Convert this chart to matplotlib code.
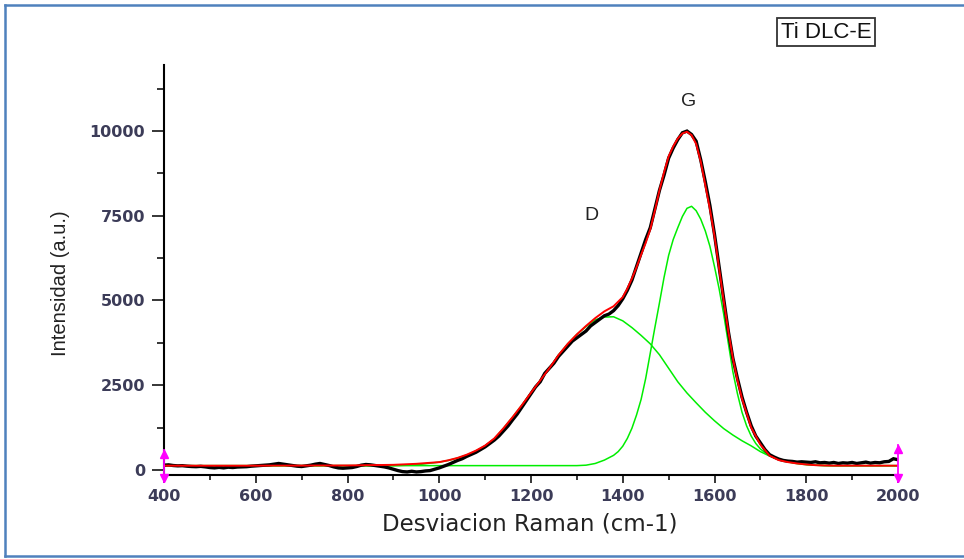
import matplotlib
matplotlib.use("Agg")
import matplotlib.pyplot as plt
from matplotlib.lines import Line2D
from matplotlib.ticker import MultipleLocator

# ---------------- data ----------------
raman_shift = [400, 410, 420, 430, 440, 450, 460, 470, 480, 490,
               500, 510, 520, 530, 540, 550, 560, 570, 580, 590,
               600, 610, 620, 630, 640, 650, 660, 670, 680, 690,
               700, 710, 720, 730, 740, 750, 760, 770, 780, 790,
               800, 810, 820, 830, 840, 850, 860, 870, 880, 890,
               900, 910, 920, 930, 940, 950, 960, 970, 980, 990,
               1000, 1010, 1020, 1030, 1040, 1050, 1060, 1070, 1080, 1090,
               1100, 1110, 1120, 1130, 1140, 1150, 1160, 1170, 1180, 1190,
               1200, 1210, 1220, 1230, 1240, 1250, 1260, 1270, 1280, 1290,
               1300, 1310, 1320, 1330, 1340, 1350, 1360, 1370, 1380, 1390,
               1400, 1410, 1420, 1430, 1440, 1450, 1460, 1470, 1480, 1490,
               1500, 1510, 1520, 1530, 1540, 1550, 1560, 1570, 1580, 1590,
               1600, 1610, 1620, 1630, 1640, 1650, 1660, 1670, 1680, 1690,
               1700, 1710, 1720, 1730, 1740, 1750, 1760, 1770, 1780, 1790,
               1800, 1810, 1820, 1830, 1840, 1850, 1860, 1870, 1880, 1890,
               1900, 1910, 1920, 1930, 1940, 1950, 1960, 1970, 1980, 1990,
               2000]
intensity = [140, 150, 130, 120, 125, 110, 100, 95, 105, 90,
             70, 60, 75, 60, 80, 70, 85, 90, 95, 110,
             120, 130, 140, 150, 170, 190, 170, 150, 130, 110,
             100, 120, 140, 170, 190, 160, 130, 90, 60, 50,
             60, 70, 100, 140, 160, 150, 130, 110, 90, 60,
             20, -20, -50, -60, -40, -60, -50, -30, -20, 20,
             60, 110, 160, 220, 280, 330, 400, 460, 520, 600,
             680, 780, 880, 1000, 1150, 1300, 1480, 1650, 1850, 2050,
             2250, 2450, 2600, 2850, 3000, 3150, 3350, 3500, 3650, 3800,
             3900, 4000, 4100, 4250, 4350, 4450, 4550, 4600, 4700, 4850,
             5050, 5300, 5600, 6000, 6400, 6800, 7150, 7700, 8250, 8700,
             9200, 9500, 9750, 9950, 10000, 9900, 9700, 9150, 8500, 7800,
             6950, 6000, 5050, 4100, 3300, 2700, 2150, 1700, 1300, 1000,
             800, 600, 450, 380, 320, 280, 260, 250, 230, 240,
             230, 220, 240, 210, 220, 200, 220, 190, 210, 200,
             220, 190, 210, 230, 200, 220, 210, 240, 250, 330,
             300]

fit_shift = [400, 500, 600, 700, 800, 900, 950,
             1000, 1020, 1040, 1060, 1080, 1100, 1120, 1140, 1160, 1180,
             1200, 1220, 1240, 1260, 1280, 1300, 1320, 1340, 1360, 1380,
             1400, 1410, 1420, 1430, 1440, 1450, 1460, 1470, 1480, 1490,
             1500, 1510, 1520, 1530, 1540, 1550, 1560, 1570, 1580, 1590,
             1600, 1610, 1620, 1630, 1640, 1650, 1660, 1680, 1700, 1720,
             1740, 1760, 1780, 1800, 1820, 1840, 1860, 1880, 1900, 2000]
fit_total = [125, 125, 125, 128, 132, 150, 180,
             230, 285, 355, 450, 570, 720, 930, 1230, 1560, 1910,
             2280, 2640, 3000, 3390, 3720, 4000, 4250, 4480, 4680, 4830,
             5100, 5350, 5650, 5980, 6350, 6700, 7100, 7650, 8250, 8780,
             9250, 9550, 9780, 9930, 9980, 9880, 9620, 9100, 8400, 7700,
             6900, 5950, 5000, 4100, 3300, 2650, 2100, 1250, 750, 420,
             290, 230, 190, 160, 140, 130, 125, 125, 125, 125]

peak_D_shift = [400, 900, 950,
                1000, 1020, 1040, 1060, 1080, 1100, 1120, 1140, 1160, 1180,
                1200, 1220, 1240, 1260, 1280, 1300, 1320, 1340, 1360, 1380,
                1400, 1420, 1440, 1460, 1480, 1500, 1520, 1540, 1560, 1580,
                1600, 1620, 1640, 1660, 1680, 1700, 1720, 1740, 1760, 1780,
                1800, 1820, 1840, 1860, 1880, 2000]
peak_D = [125, 125, 150,
          230, 280, 350, 440, 560, 710, 920, 1230, 1560, 1910,
          2280, 2640, 3000, 3390, 3720, 4000, 4230, 4430, 4510, 4520,
          4400, 4200, 3970, 3720, 3400, 3000, 2600, 2270, 1980, 1700,
          1450, 1220, 1030, 860, 710, 540, 410, 310, 245, 200,
          165, 140, 130, 125, 125, 125]

peak_G_shift = [400, 1300, 1320, 1340, 1360, 1380, 1390,
                1400, 1410, 1420, 1430, 1440, 1450, 1460, 1470, 1480, 1490,
                1500, 1510, 1520, 1530, 1540, 1550, 1560, 1570, 1580, 1590,
                1600, 1610, 1620, 1630, 1640, 1650, 1660, 1670, 1680, 1690,
                1700, 1710, 1720, 1740, 1760, 1780, 1800, 1820, 1840, 1860,
                1880, 2000]
peak_G = [125, 127, 140, 190, 290, 430, 540,
          700, 930, 1230, 1620, 2080, 2700, 3450, 4200, 4930, 5680,
          6330, 6800, 7150, 7480, 7720, 7780, 7650, 7400, 7050, 6600,
          6000, 5350, 4600, 3750, 2900, 2250, 1700, 1300, 1000, 780,
          620, 510, 430, 310, 235, 185, 155, 138, 128, 125,
          125, 125]

cursor_x = [400, 2000]
cursor_low = [-350, -350]
cursor_high = [600, 750]

x_ticks = [400, 600, 800, 1000, 1200, 1400, 1600, 1800, 2000]
y_ticks = [0, 2500, 5000, 7500, 10000]
peak_labels = ["D", "G"]
peak_label_x = [1331, 1544]
peak_label_y = [7520, 10880]

# ---------------- figure ----------------
W, H = 964, 559
fig = plt.figure(figsize=(W / 100, H / 100), dpi=100)
fig.patch.set_facecolor("white")

ax = fig.add_axes([164 / W, 1 - 475 / H, (898 - 164) / W, (475 - 65) / H])
ax.set_xlim(400, 2000)
ax.set_ylim(-150, 11950)

ax.plot(peak_G_shift, peak_G, color="#00ee00", lw=1.1, zorder=2)
ax.plot(peak_D_shift, peak_D, color="#00ee00", lw=1.1, zorder=2)
ax.plot(raman_shift, intensity, color="black", lw=2.4, zorder=3,
        solid_joinstyle="miter")
ax.plot(fit_shift, fit_total, color="#ff0000", lw=1.4, zorder=4)

# magenta range cursors at both ends
for cx, lo, hi in zip(cursor_x, cursor_low, cursor_high):
    ax.plot([cx, cx], [lo, hi], color="#ff00ff", lw=1.3, zorder=6, clip_on=False)
    ax.plot([cx], [hi - 120], marker="^", color="#ff00ff", ms=6, zorder=6, clip_on=False)
    ax.plot([cx], [lo + 120], marker="v", color="#ff00ff", ms=6, zorder=6, clip_on=False)

for lab, lx, ly in zip(peak_labels, peak_label_x, peak_label_y):
    ax.text(lx, ly, lab, ha="center", va="center", fontsize=14,
            family=["Liberation Sans", "DejaVu Sans"], color="#222222")

# spines / ticks
for s in ("top", "right"):
    ax.spines[s].set_visible(False)
ax.spines["left"].set_linewidth(1.5)
ax.spines["bottom"].set_linewidth(1.5)
ax.set_xticks(x_ticks)
ax.set_yticks(y_ticks)
ax.xaxis.set_minor_locator(MultipleLocator(100))
ax.yaxis.set_minor_locator(MultipleLocator(1250))
ax.tick_params(axis="x", which="major", direction="out", length=6, width=1.1, pad=4)
ax.tick_params(axis="x", which="minor", direction="out", length=3.5, width=1.1)
ax.tick_params(axis="y", which="major", direction="out", length=8.5, width=1.1, pad=5)
ax.tick_params(axis="y", which="minor", direction="out", length=5, width=1.1)
for lbl in ax.get_xticklabels() + ax.get_yticklabels():
    lbl.set_family(["DejaVu Sans"])
    lbl.set_fontweight("bold")
    lbl.set_fontsize(11.5)
    lbl.set_color("#3c3c58")

fig.text(530 / W, 1 - 524 / H, "Desviacion Raman (cm-1)", ha="center", va="center",
         fontsize=16.5, family=["DejaVu Sans"], color="#222222")
fig.text(60 / W, 1 - 283 / H, "Intensidad (a.u.)", ha="center", va="center",
         rotation=90, fontsize=14.5,
         family=["Liberation Sans", "DejaVu Sans"],
         color="#222222")

fig.text(826 / W, 1 - 32 / H, "Ti DLC-E", ha="center", va="center", fontsize=16,
         family=["Liberation Sans", "DejaVu Sans"],
         color="#111111",
         bbox=dict(boxstyle="square,pad=0.15", facecolor="white",
                   edgecolor="#333333", lw=1.3))

# blue frame around the figure
bc = "#4f81bd"
fig.add_artist(Line2D([5 / W, 1.0], [1 - 5 / H, 1 - 5 / H], color=bc, lw=1.8))
fig.add_artist(Line2D([5 / W, 5 / W], [1 - 5 / H, 1 - 556 / H], color=bc, lw=1.8))
fig.add_artist(Line2D([5 / W, 1.0], [1 - 556 / H, 1 - 556 / H], color=bc, lw=1.8))

fig.savefig("out.png", dpi=100)
